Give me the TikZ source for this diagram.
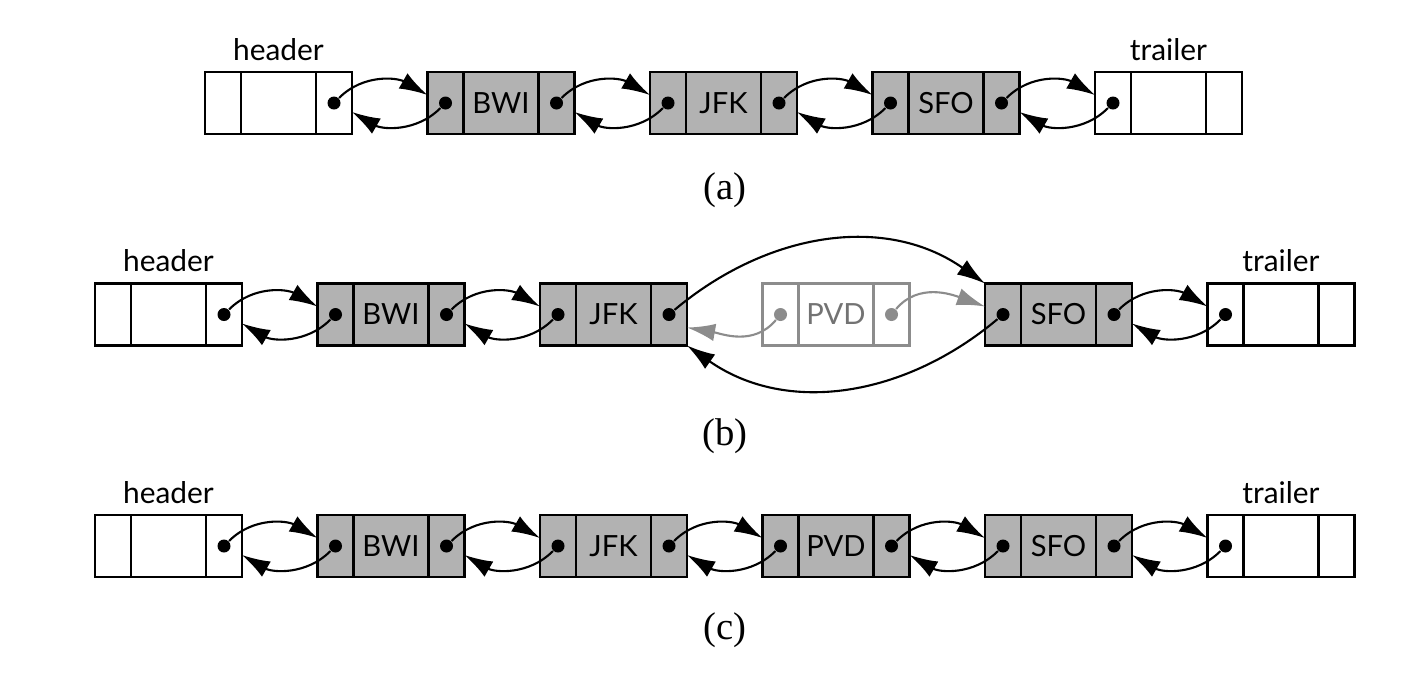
\documentclass[tikz,border=0pt]{standalone}
\usepackage{fontspec}
\setmainfont{Liberation Serif}
\newfontfamily\labelfont{Lato}
\usetikzlibrary{positioning,arrows.meta}

\begin{document}
\begin{tikzpicture}[
  x=1cm,
  y=1cm,
  cell/.style={draw, line width=0.6pt, minimum height=0.62cm, inner sep=0pt, outer sep=0pt,
    font=\labelfont\fontsize{8.3}{10}\selectfont},
  link/.style={cell, minimum width=0.36cm},
  elem/.style={cell, minimum width=0.75cm},
  bare/.style={fill=white},
  full/.style={fill=black!30},
  faded/.style={fill=white, draw=black!45, text=black!55},
  ptrdot/.style={circle, fill, inner sep=0pt, minimum size=0.13cm},
  ptr/.style={-{Latex[length=8pt,width=5pt]}, line width=0.6pt},
  fadedptr/.style={ptr, black!45},
  tag/.style={inner sep=0pt, font=\labelfont\fontsize{8.5}{10}\selectfont},
  caption/.style={font=\fontsize{11}{13}\selectfont}
]

\useasboundingbox (0,0) rectangle (14.2,-6.92);

% (a) header, BWI, JFK, SFO, trailer
\foreach \i/\t/\s in {0//bare,1/BWI/full,2/JFK/full,3/SFO/full,4//bare} {
  \node[link,\s] (a\i-p) at (2.23+2.225*\i,-1.03) {};
  \node[elem,\s,right=0pt of a\i-p] (a\i) {\t};
  \node[link,\s,right=0pt of a\i] (a\i-n) {};
}
\node[tag, above=0.11cm of a0] (a-head) {header};
\node[tag, above=0.11cm of a4] (a-trail) {trailer};

\foreach \i in {1,...,4} \node[ptrdot] (a\i-l) at (a\i-p) {};
\foreach \i in {0,...,3} \node[ptrdot] (a\i-r) at (a\i-n) {};

\foreach \i/\j in {0/1,1/2,2/3,3/4} {
  \draw[ptr] (a\i-r) to[out=45,in=150] ([yshift=0.08cm]a\j-p.west);
  \draw[ptr] (a\j-l) to[out=-135,in=-30] ([yshift=-0.09cm]a\i-n.east);
}

\node[caption] (cap-a) at (7.25,-1.90) {(a)};

% (b) PVD being inserted between JFK and SFO
\foreach \i/\t/\s in {0//bare,1/BWI/full,2/JFK/full,3/PVD/faded,4/SFO/full,5//bare} {
  \node[link,\s] (b\i-p) at (1.13+2.225*\i,-3.145) {};
  \node[elem,\s,right=0pt of b\i-p] (b\i) {\t};
  \node[link,\s,right=0pt of b\i] (b\i-n) {};
}
\node[tag, above=0.11cm of b0] (b-head) {header};
\node[tag, above=0.11cm of b5] (b-trail) {trailer};

\foreach \i in {1,2,4,5} \node[ptrdot] (b\i-l) at (b\i-p) {};
\foreach \i in {0,1,2,4} \node[ptrdot] (b\i-r) at (b\i-n) {};
\node[ptrdot, fill=black!45] (b3-l) at (b3-p) {};
\node[ptrdot, fill=black!45] (b3-r) at (b3-n) {};

\foreach \i/\j in {0/1,1/2,4/5} {
  \draw[ptr] (b\i-r) to[out=45,in=150] ([yshift=0.08cm]b\j-p.west);
  \draw[ptr] (b\j-l) to[out=-135,in=-30] ([yshift=-0.09cm]b\i-n.east);
}
\draw[ptr] (b2-r) to[out=40,in=145] (b4-p.north west);
\draw[ptr] (b4-l) to[out=-140,in=-35] (b2-n.south east);
\draw[fadedptr] (b3-l) to[out=-130,in=-10] ([yshift=-0.13cm]b2-n.east);
\draw[fadedptr] (b3-r) to[out=50,in=160] ([yshift=0.08cm]b4-p.west);

\node[caption] (cap-b) at (7.25,-4.36) {(b)};

% (c) after the insertion
\foreach \i/\t/\s in {0//bare,1/BWI/full,2/JFK/full,3/PVD/full,4/SFO/full,5//bare} {
  \node[link,\s] (c\i-p) at (1.13+2.225*\i,-5.46) {};
  \node[elem,\s,right=0pt of c\i-p] (c\i) {\t};
  \node[link,\s,right=0pt of c\i] (c\i-n) {};
}
\node[tag, above=0.11cm of c0] (c-head) {header};
\node[tag, above=0.11cm of c5] (c-trail) {trailer};

\foreach \i in {1,...,5} \node[ptrdot] (c\i-l) at (c\i-p) {};
\foreach \i in {0,...,4} \node[ptrdot] (c\i-r) at (c\i-n) {};

\foreach \i/\j in {0/1,1/2,2/3,3/4,4/5} {
  \draw[ptr] (c\i-r) to[out=45,in=150] ([yshift=0.08cm]c\j-p.west);
  \draw[ptr] (c\j-l) to[out=-135,in=-30] ([yshift=-0.09cm]c\i-n.east);
}

\node[caption] (cap-c) at (7.25,-6.30) {(c)};

\end{tikzpicture}
\end{document}
